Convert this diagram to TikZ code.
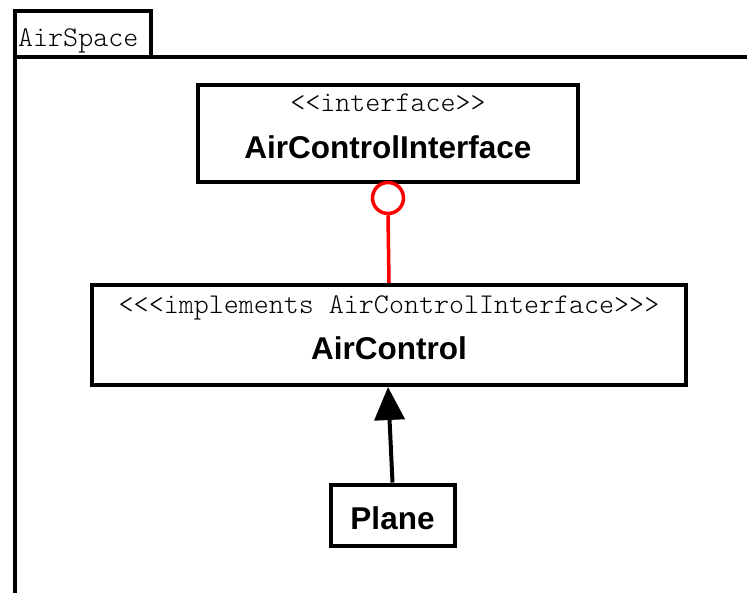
\documentclass[tikz,border=0pt]{standalone}
\usepackage{fontspec}
\setmainfont{Liberation Sans}
\newfontfamily\thinmono{Latin Modern Mono Light}
\usetikzlibrary{arrows.meta}
\tikzset{
  classbox/.style={draw, line width=4pt, fill=white, inner sep=0pt},
  stereo/.style={font=\thinmono\fontsize{28.6}{30}\selectfont, inner sep=0pt, anchor=base},
  cname/.style={font=\bfseries\fontsize{31.5}{34}\selectfont, inner sep=0pt, anchor=base},
  realize/.style={draw=red, line width=3.5pt},
  depend/.style={line width=4pt, -{Triangle[length=33pt,width=30pt]}}
}
\begin{document}
\begin{tikzpicture}[x=1pt,y=-1pt]
  \useasboundingbox (0,0) rectangle (747,592);
  \clip (0,0) rectangle (747,592);
  % package frame and its name tab
  \draw[line width=4pt] (15,600) -- (15,57) -- (760,57);
  \node[classbox, minimum width=136pt, minimum height=46pt] (tab) at (83,34) {};
  \node[stereo, anchor=base west] (tabname) at (18,46) {AirSpace};
  % interface
  \node[classbox, minimum width=380pt, minimum height=97pt] (iface) at (388,133) {};
  \node[stereo] (ifacest) at (388,111) {<{}<interface>{}>};
  \node[cname] (ifacename) at (388,158) {AirControlInterface};
  % implementing class
  \node[classbox, minimum width=594pt, minimum height=100pt] (ctrl) at (389,335) {};
  \node[stereo] (ctrlst) at (389,313) {<{}<{}<implements AirControlInterface>{}>{}>};
  \node[cname] (ctrlname) at (389,359) {AirControl};
  % client
  \node[classbox, minimum width=124pt, minimum height=61pt] (plane) at (392.5,515) {};
  \node[cname] (planename) at (392.5,529) {Plane};
  % lollipop realization
  \node[draw=red, line width=3.5pt, circle, minimum size=31pt, inner sep=0pt, fill=white] (lolli) at (388,198) {};
  \draw[realize] (lolli.south) -- (ctrl.north);
  % dependency arrow
  \draw[depend] (plane.north) -- ([xshift=-1pt]ctrl.south);
\end{tikzpicture}
\end{document}
